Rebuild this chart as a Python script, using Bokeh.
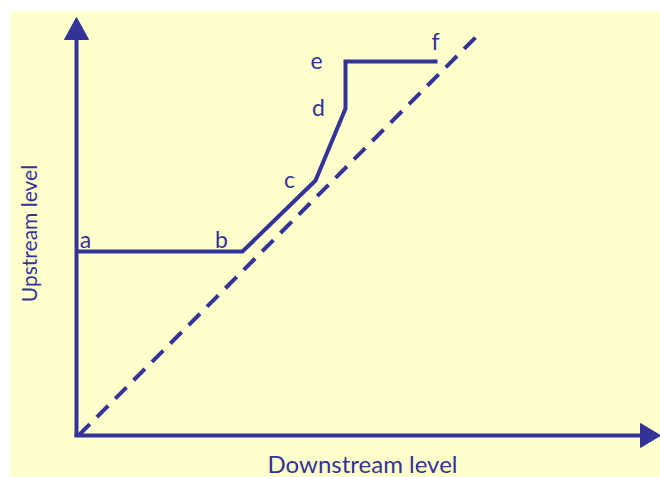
from bokeh.plotting import figure
from bokeh.models import Range1d, ColumnDataSource
from bokeh.core.properties import value
from bokeh.embed import file_html
from bokeh.resources import INLINE

# Data (arbitrary level units)
downstream = [0, 166, 239, 269, 269, 361]
upstream = [184, 184, 255, 327, 374, 374]
point_labels = ["a", "b", "c", "d", "e", "f"]
label_x = [9, 145, 213, 242, 240, 359]
label_y = [197, 197, 257, 329, 375, 395]
equal_down = [2, 406]
equal_up = [0, 405]
x_title = "Downstream level"
y_title = "Upstream level"

BLUE = "#333399"
BG = "#FFFFCC"

p = figure(width=660, height=477, output_backend="svg", toolbar_location=None,
           x_range=Range1d(-76, 584), y_range=Range1d(-42, 435), min_border=0)
p.axis.visible = False
p.grid.visible = False
p.outline_line_color = None
p.background_fill_color = "white"
p.border_fill_color = "white"

# yellow panel
p.quad(left=[-66], right=[584], bottom=[-42], top=[424], fill_color=BG, line_color=None)

# axes with arrows
p.line([0, 0], [-1, 397], line_color=BLUE, line_width=4)
p.patch([-12, 12, 0], [396, 396, 418], fill_color=BLUE, line_color=BLUE)
p.line([-2, 565], [0, 0], line_color=BLUE, line_width=4)
p.patch([564, 564, 584], [-12, 12, 0], fill_color=BLUE, line_color=BLUE)

# equal-level dashed line
p.line(equal_down, equal_up, line_color=BLUE, line_width=4, line_dash="16 10")

# operating curve
p.line(downstream, upstream, line_color=BLUE, line_width=4, line_join="miter")

src = ColumnDataSource(dict(x=label_x, y=label_y, t=point_labels))
p.text(x="x", y="y", text="t", source=src, text_color=BLUE, text_font=value("Lato"),
       text_font_size="23px", text_align="center", text_baseline="middle")

p.text(x=[286], y=[-28], text=[x_title], text_color=BLUE, text_font=value("Lato"),
       text_font_size="24px", text_align="center", text_baseline="middle")
p.text(x=[-48], y=[202], text=[y_title], text_color=BLUE, text_font=value("Lato"),
       text_font_size="21px", text_align="center", text_baseline="middle", angle=1.5708)

open("out.html", "w").write(file_html(p, INLINE))
